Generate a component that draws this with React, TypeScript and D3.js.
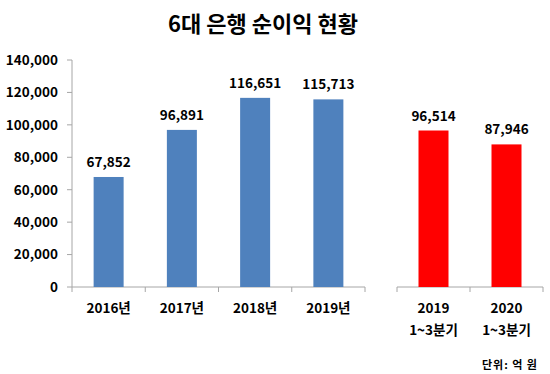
import React, { useEffect, useRef } from 'react';
import * as d3 from 'd3';

const annualLabels = ['2016년', '2017년', '2018년', '2019년'];
const annualValues = [67852, 96891, 116651, 115713];
const quarterLabels = [['2019', '1~3분기'], ['2020', '1~3분기']];
const quarterValues = [96514, 87946];
const yTicks = [0, 20000, 40000, 60000, 80000, 100000, 120000, 140000];

const FONT = '"Noto Sans CJK KR", "Noto Sans", sans-serif';

const App = () => {
  const ref = useRef<SVGSVGElement>(null);

  useEffect(() => {
    const svg = d3.select(ref.current);
    svg.selectAll('*').remove();
    const baseY = 287;
    const topY = 60;

    const y = d3.scaleLinear().domain([0, 140000]).range([baseY, topY]);
    const fmt = d3.format(',');

    svg.append('text')
      .attr('x', 263)
      .attr('y', 32)
      .attr('text-anchor', 'middle')
      .style('font-family', FONT)
      .style('font-weight', 'bold')
      .style('font-size', '22px')
      .text('6대 은행 순이익 현황');

    // left y axis
    const yAxis = svg.append('g').attr('transform', 'translate(72,0)');
    yAxis.append('line')
      .attr('x1', 0).attr('x2', 0)
      .attr('y1', y(140000)).attr('y2', y(0))
      .attr('stroke', '#a6a6a6');
    yAxis.selectAll('line.tick')
      .data(yTicks)
      .join('line')
      .attr('class', 'tick')
      .attr('x1', -5).attr('x2', 0)
      .attr('y1', d => y(d)).attr('y2', d => y(d))
      .attr('stroke', '#a6a6a6');
    yAxis.selectAll('text')
      .data(yTicks)
      .join('text')
      .attr('x', -14)
      .attr('y', d => y(d))
      .attr('dy', '0.36em')
      .attr('text-anchor', 'end')
      .style('font-family', FONT)
      .style('font-weight', 'bold')
      .style('font-size', '13.5px')
      .text(d => fmt(d));

    const drawPanel = (labels: string[][], values: number[], x0: number, x1: number, color: string) => {
      const x = d3.scaleBand<number>()
        .domain(d3.range(values.length))
        .range([x0, x1]);
      const g = svg.append('g');
      g.append('line')
        .attr('x1', x0).attr('x2', x1)
        .attr('y1', baseY).attr('y2', baseY)
        .attr('stroke', '#a6a6a6');
      const edges = d3.range(values.length + 1).map(i => x0 + i * x.bandwidth());
      g.selectAll('line.tick')
        .data(edges)
        .join('line')
        .attr('class', 'tick')
        .attr('x1', d => d).attr('x2', d => d)
        .attr('y1', baseY).attr('y2', baseY + 5)
        .attr('stroke', '#a6a6a6');
      const bw = 30;
      g.selectAll('rect')
        .data(values)
        .join('rect')
        .attr('x', (d, i) => (x(i) as number) + x.bandwidth() / 2 - bw / 2)
        .attr('y', d => y(d))
        .attr('width', bw)
        .attr('height', d => baseY - y(d))
        .attr('fill', color);
      g.selectAll('text.val')
        .data(values)
        .join('text')
        .attr('class', 'val')
        .attr('x', (d, i) => (x(i) as number) + x.bandwidth() / 2)
        .attr('y', d => y(d) - 10)
        .attr('text-anchor', 'middle')
        .style('font-family', FONT)
        .style('font-weight', 'bold')
        .style('font-size', '13.5px')
        .text(d => fmt(d));
      labels.forEach((lines, i) => {
        lines.forEach((line, j) => {
          g.append('text')
            .attr('x', (x(i) as number) + x.bandwidth() / 2)
            .attr('y', 313 + j * 22)
            .attr('text-anchor', 'middle')
            .style('font-family', FONT)
            .style('font-weight', 'bold')
            .style('font-size', '13.5px')
            .text(line);
        });
      });
    };

    drawPanel(annualLabels.map(l => [l]), annualValues, 72, 365, '#4f81bd');
    drawPanel(quarterLabels, quarterValues, 397, 543, '#ff0000');

    svg.append('text')
      .attr('x', 538)
      .attr('y', 369)
      .attr('text-anchor', 'end')
      .style('font-family', FONT)
      .style('font-weight', 'bold')
      .style('font-size', '11px')
      .style('letter-spacing', '1px')
      .text('단위: 억 원');
  }, []);

  return (
    <svg
      ref={ref}
      width={550}
      height={374}
      style={{ position: 'absolute', left: 0, top: 0, background: '#fff' }}
    />
  );
};

export default App;
